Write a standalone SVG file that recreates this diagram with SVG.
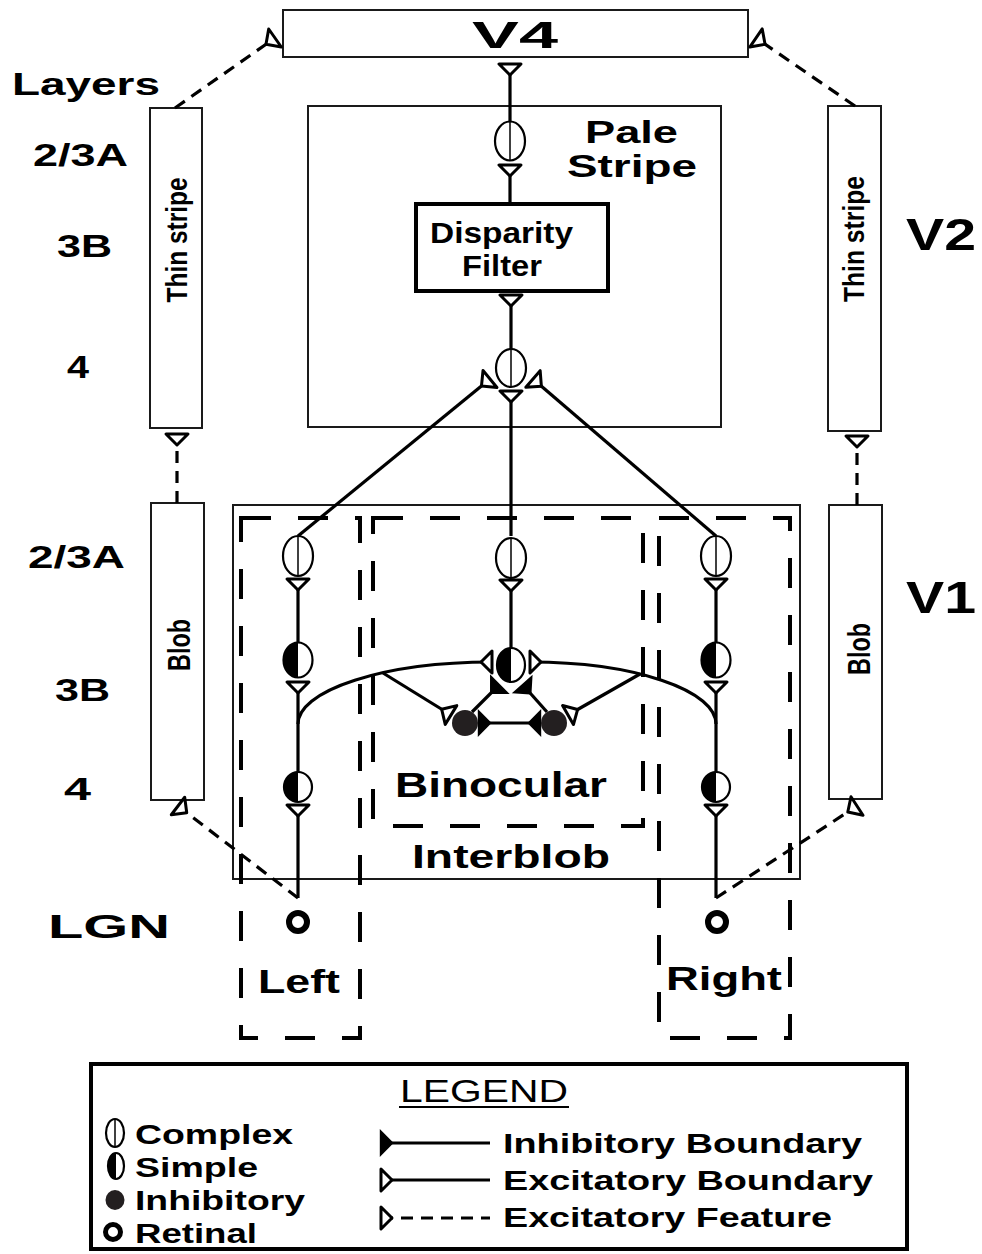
<svg xmlns="http://www.w3.org/2000/svg" width="982" height="1254" viewBox="0 0 982 1254">
<defs>
<style>
.t{font-family:"Liberation Sans",Arial,sans-serif;font-weight:bold;fill:#000}
.box{fill:#fff;stroke:#1a1a1a;stroke-width:2}
.frame{fill:none;stroke:#000;stroke-width:4;stroke-dasharray:30 27}
.ln{fill:none;stroke:#000;stroke-width:3.2}
.dl{fill:none;stroke:#000;stroke-width:3.2;stroke-dasharray:12 8}
.cell{fill:#fff;stroke:#000;stroke-width:2.2}
.mid{stroke:#000;stroke-width:1.5}
.blk{fill:#000}
</style>
<marker id="exc" markerUnits="userSpaceOnUse" viewBox="-3 -15 18 30" refX="11" refY="0" markerWidth="18" markerHeight="30" orient="auto-start-reverse">
<path d="M0,0 L11,-11 L11,11 Z" fill="#fff" stroke="#000" stroke-width="3" stroke-linejoin="round"/>
</marker>
<marker id="inh" markerUnits="userSpaceOnUse" viewBox="-3 -15 18 30" refX="11" refY="0" markerWidth="18" markerHeight="30" orient="auto-start-reverse">
<path d="M0,0 L11,-11 L11,11 Z" fill="#000" stroke="#000" stroke-width="2.4"/>
</marker>
</defs>
<rect width="982" height="1254" fill="#fff"/>

<g id="labels">
<text class="t" x="12" y="95" font-size="32" textLength="148" lengthAdjust="spacingAndGlyphs">Layers</text>
<text class="t" x="33" y="166" font-size="31" textLength="95" lengthAdjust="spacingAndGlyphs">2/3A</text>
<text class="t" x="57" y="257" font-size="31" textLength="55" lengthAdjust="spacingAndGlyphs">3B</text>
<text class="t" x="67" y="378" font-size="31" textLength="22" lengthAdjust="spacingAndGlyphs">4</text>
<text class="t" x="28" y="568" font-size="31" textLength="97" lengthAdjust="spacingAndGlyphs">2/3A</text>
<text class="t" x="55" y="701" font-size="31" textLength="55" lengthAdjust="spacingAndGlyphs">3B</text>
<text class="t" x="64" y="800" font-size="31" textLength="27" lengthAdjust="spacingAndGlyphs">4</text>
<text class="t" x="48" y="938" font-size="33" textLength="122" lengthAdjust="spacingAndGlyphs">LGN</text>
<text class="t" x="906" y="250" font-size="44" textLength="70" lengthAdjust="spacingAndGlyphs">V2</text>
<text class="t" x="906" y="613" font-size="44" textLength="70" lengthAdjust="spacingAndGlyphs">V1</text>
</g>

<g id="v4">
<rect class="box" x="283" y="10" width="465" height="47"/>
<text class="t" x="472" y="48" font-size="36" textLength="86" lengthAdjust="spacingAndGlyphs">V4</text>
</g>

<g id="thin-stripe-left">
<rect class="box" x="150" y="108" width="52" height="320"/>
<text class="t" transform="translate(187,240) rotate(-90)" text-anchor="middle" font-size="30" textLength="125" lengthAdjust="spacingAndGlyphs">Thin stripe</text>
</g>
<g id="thin-stripe-right">
<rect class="box" x="828" y="106" width="53" height="325"/>
<text class="t" transform="translate(864,239) rotate(-90)" text-anchor="middle" font-size="30" textLength="126" lengthAdjust="spacingAndGlyphs">Thin stripe</text>
</g>
<g id="blob-left">
<rect class="box" x="151" y="503" width="53" height="297"/>
<text class="t" transform="translate(190,645) rotate(-90)" text-anchor="middle" font-size="31" textLength="52" lengthAdjust="spacingAndGlyphs">Blob</text>
</g>
<g id="blob-right">
<rect class="box" x="829" y="505" width="53" height="294"/>
<text class="t" transform="translate(870,649) rotate(-90)" text-anchor="middle" font-size="31" textLength="52" lengthAdjust="spacingAndGlyphs">Blob</text>
</g>

<g id="pale-stripe">
<rect class="box" x="308" y="106" width="413" height="321"/>
<text class="t" x="585" y="143" font-size="31" textLength="93" lengthAdjust="spacingAndGlyphs">Pale</text>
<text class="t" x="567" y="177" font-size="31" textLength="130" lengthAdjust="spacingAndGlyphs">Stripe</text>
</g>

<g id="interblob">
<rect class="box" x="233" y="505" width="567" height="374"/>
<text class="t" x="412" y="868" font-size="33" textLength="198" lengthAdjust="spacingAndGlyphs">Interblob</text>
</g>

<g id="eye-frames">
<path class="frame" d="M241,518 H360 V1038 H241 Z"/>
<path class="frame" d="M373,518 H643 V826 H373 Z"/>
<path class="frame" d="M659,518 H790 V1038 H659 Z"/>
<text class="t" x="395" y="797" font-size="35" textLength="212" lengthAdjust="spacingAndGlyphs">Binocular</text>
<text class="t" x="258" y="993" font-size="33" textLength="82" lengthAdjust="spacingAndGlyphs">Left</text>
<text class="t" x="666" y="990" font-size="33" textLength="116" lengthAdjust="spacingAndGlyphs">Right</text>
</g>

<g id="disparity-filter">
<rect x="416" y="204" width="192" height="87" fill="#fff" stroke="#000" stroke-width="4"/>
<text class="t" x="430" y="243" font-size="29" textLength="143" lengthAdjust="spacingAndGlyphs">Disparity</text>
<text class="t" x="462" y="276" font-size="29" textLength="80" lengthAdjust="spacingAndGlyphs">Filter</text>
</g>

<g id="connectors">
<path class="ln" marker-end="url(#exc)" d="M510,121 V64"/>
<path class="ln" marker-end="url(#exc)" d="M510,204 V165"/>
<path class="ln" marker-end="url(#exc)" d="M511,349 V295"/>
<path class="ln" marker-end="url(#exc)" d="M511,536 V391"/>
<path class="ln" marker-end="url(#exc)" d="M298,536 L490,379"/>
<path class="ln" marker-end="url(#exc)" d="M716,536 L533,379"/>
<path class="ln" marker-end="url(#exc)" d="M298,642 V579"/>
<path class="ln" marker-end="url(#exc)" d="M511,648 V580"/>
<path class="ln" marker-end="url(#exc)" d="M716,642 V579"/>
<path class="ln" marker-end="url(#exc)" d="M298,772 V682"/>
<path class="ln" marker-end="url(#exc)" d="M716,772 V682"/>
<path class="ln" marker-end="url(#exc)" d="M298,898 V805"/>
<path class="ln" marker-end="url(#exc)" d="M716,898 V805"/>
<path class="ln" marker-end="url(#exc)" d="M298,724 A194,62 0 0 1 492,662"/>
<path class="ln" marker-end="url(#exc)" d="M716,724 A186,62 0 0 0 530,662"/>
<path class="ln" marker-end="url(#exc)" d="M383,673 L451,715"/>
<path class="ln" marker-end="url(#exc)" d="M640,674 L568,715"/>
<path class="ln" marker-end="url(#inh)" d="M472,712 L499,685"/>
<path class="ln" marker-end="url(#inh)" d="M547,712 L523,685"/>
<path class="ln" marker-start="url(#inh)" marker-end="url(#inh)" d="M479,723 H540"/>
<path class="dl" marker-end="url(#exc)" d="M177,503 V434"/>
<path class="dl" marker-end="url(#exc)" d="M857,505 V436"/>
<path class="dl" marker-end="url(#exc)" d="M175,108 L275,38"/>
<path class="dl" marker-end="url(#exc)" d="M855,106 L756,38"/>
<path class="dl" marker-end="url(#exc)" d="M298,898 L178,806"/>
<path class="dl" marker-end="url(#exc)" d="M716,898 L857,806"/>
</g>

<g id="v2-complex-top"><ellipse class="cell" cx="510" cy="141" rx="15" ry="19.5"/><line class="mid" x1="510" y1="121.5" x2="510" y2="160.5"/></g>
<g id="v2-complex-bottom"><ellipse class="cell" cx="511" cy="368" rx="15" ry="19"/><line class="mid" x1="511" y1="349" x2="511" y2="387"/></g>

<g id="v1-complex-left"><ellipse class="cell" cx="298" cy="556" rx="15" ry="20"/><line class="mid" x1="298" y1="536" x2="298" y2="576"/></g>
<g id="v1-complex-center"><ellipse class="cell" cx="511" cy="558" rx="15" ry="20"/><line class="mid" x1="511" y1="538" x2="511" y2="578"/></g>
<g id="v1-complex-right"><ellipse class="cell" cx="716" cy="556" rx="15" ry="20"/><line class="mid" x1="716" y1="536" x2="716" y2="576"/></g>

<g id="v1-simple-3b-left"><ellipse class="cell" cx="298" cy="660" rx="14.5" ry="17.5"/><path class="blk" d="M298,642.5 A14.5,17.5 0 0 0 298,677.5 Z"/></g>
<g id="v1-simple-3b-center"><ellipse class="cell" cx="511" cy="665" rx="14" ry="17"/><path class="blk" d="M511,648 A14,17 0 0 0 511,682 Z"/></g>
<g id="v1-simple-3b-right"><ellipse class="cell" cx="716" cy="660" rx="14.5" ry="17.5"/><path class="blk" d="M716,642.5 A14.5,17.5 0 0 0 716,677.5 Z"/></g>

<g id="v1-simple-4-left"><ellipse class="cell" cx="298" cy="787" rx="14" ry="15"/><path class="blk" d="M298,772 A14,15 0 0 0 298,802 Z"/></g>
<g id="v1-simple-4-right"><ellipse class="cell" cx="716" cy="787" rx="14" ry="15"/><path class="blk" d="M716,772 A14,15 0 0 0 716,802 Z"/></g>

<g id="inhibitory-left"><circle cx="465" cy="723" r="13" fill="#231f20"/></g>
<g id="inhibitory-right"><circle cx="554" cy="723" r="13" fill="#231f20"/></g>

<g id="lgn-left"><circle cx="298" cy="922" r="9" fill="#fff" stroke="#000" stroke-width="6"/></g>
<g id="lgn-right"><circle cx="717" cy="922" r="9" fill="#fff" stroke="#000" stroke-width="6"/></g>

<g id="legend">
<rect x="91" y="1064" width="816" height="185" fill="none" stroke="#000" stroke-width="4"/>
<text x="400" y="1102" font-family="Liberation Sans, Arial, sans-serif" font-size="32" textLength="168" lengthAdjust="spacingAndGlyphs">LEGEND</text>
<line x1="399" y1="1107" x2="569" y2="1107" stroke="#000" stroke-width="2"/>
<ellipse class="cell" cx="115" cy="1133" rx="9" ry="14" stroke-width="1.8"/><line class="mid" x1="115" y1="1119" x2="115" y2="1147"/>
<ellipse class="cell" cx="116" cy="1166" rx="8" ry="13" stroke-width="1.8"/><path class="blk" d="M116,1153 A8,13 0 0 0 116,1179 Z"/>
<ellipse cx="115" cy="1200" rx="9.5" ry="10" fill="#231f20"/>
<circle cx="113" cy="1232" r="7.5" fill="#fff" stroke="#000" stroke-width="5"/>
<text class="t" x="135" y="1144" font-size="27" textLength="158" lengthAdjust="spacingAndGlyphs">Complex</text>
<text class="t" x="135" y="1177" font-size="27" textLength="123" lengthAdjust="spacingAndGlyphs">Simple</text>
<text class="t" x="135" y="1210" font-size="27" textLength="170" lengthAdjust="spacingAndGlyphs">Inhibitory</text>
<text class="t" x="135" y="1243" font-size="27" textLength="122" lengthAdjust="spacingAndGlyphs">Retinal</text>
<path class="ln" marker-start="url(#inh)" d="M381,1143 H490"/>
<path class="ln" marker-start="url(#exc)" d="M381,1180 H490"/>
<path class="dl" marker-start="url(#exc)" d="M381,1218 H490"/>
<text class="t" x="503" y="1153" font-size="28" textLength="359" lengthAdjust="spacingAndGlyphs">Inhibitory Boundary</text>
<text class="t" x="503" y="1190" font-size="28" textLength="370" lengthAdjust="spacingAndGlyphs">Excitatory Boundary</text>
<text class="t" x="503" y="1227" font-size="28" textLength="329" lengthAdjust="spacingAndGlyphs">Excitatory Feature</text>
</g>
</svg>
